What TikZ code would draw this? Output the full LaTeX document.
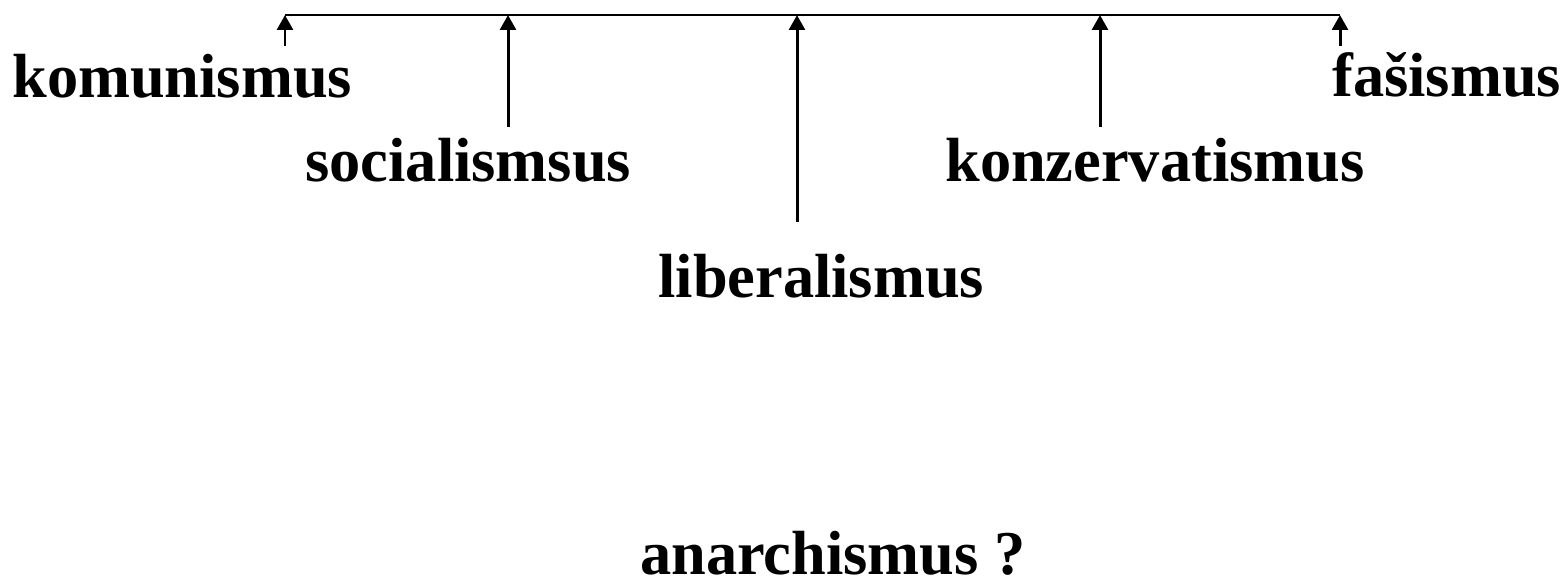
\documentclass[tikz,border=0pt]{standalone}
\usepackage{fontspec}
\setmainfont{Liberation Serif}
\usepackage{tikz}
\usetikzlibrary{positioning,arrows.meta}
\tikzset{
  % --- labels of the political spectrum ---
  ideo/.style={inner sep=0pt, anchor=base west, font=\fontsize{35.5}{40}\selectfont\bfseries},
  % --- axis line and the pointers up to it ---
  axis/.style={line width=1.7pt, draw=black},
  pointer/.style={line width=1.7pt, draw=black, -{Triangle[length=8.5pt,width=9pt]}},
}

\begin{document}
\begin{tikzpicture}[x=0.02cm, y=-0.02cm]
  \useasboundingbox (0,0) rectangle (1567,579);

  % --- points on the axis ---
  \coordinate (komtop) at (285,15);
  \coordinate (soctop) at (508,15);
  \coordinate (libtop) at (797,15);
  \coordinate (kontop) at (1100,15);
  \coordinate (fastop) at (1340,15);

  % --- lower ends of the pointers ---
  \coordinate (komend) at (285,46);
  \coordinate (socend) at (508,127);
  \coordinate (libend) at (797,222);
  \coordinate (konend) at (1100,127);
  \coordinate (fasend) at (1340,46);

  % --- labels ---
  \node[ideo] (kom) at (12,97)   {komunismus};
  \node[ideo] (soc) at (305,181) {socialismsus};
  \node[ideo] (lib) at (658,297) {liberalismus};
  \node[ideo] (kon) at (945,181) {konzervatismus};
  \node[ideo] (fas) at (1332,96) {fašismus};
  \node[ideo] (ana) at (640,574) {anarchismus ?};

  % --- axis ---
  \draw[axis] (komtop) -- (fastop);

  % --- pointers ---
  \draw[pointer] (komend) -- (komtop);
  \draw[pointer] (socend) -- (soctop);
  \draw[pointer] (libend) -- (libtop);
  \draw[pointer] (konend) -- (kontop);
  \draw[pointer] (fasend) -- (fastop);
\end{tikzpicture}
\end{document}
